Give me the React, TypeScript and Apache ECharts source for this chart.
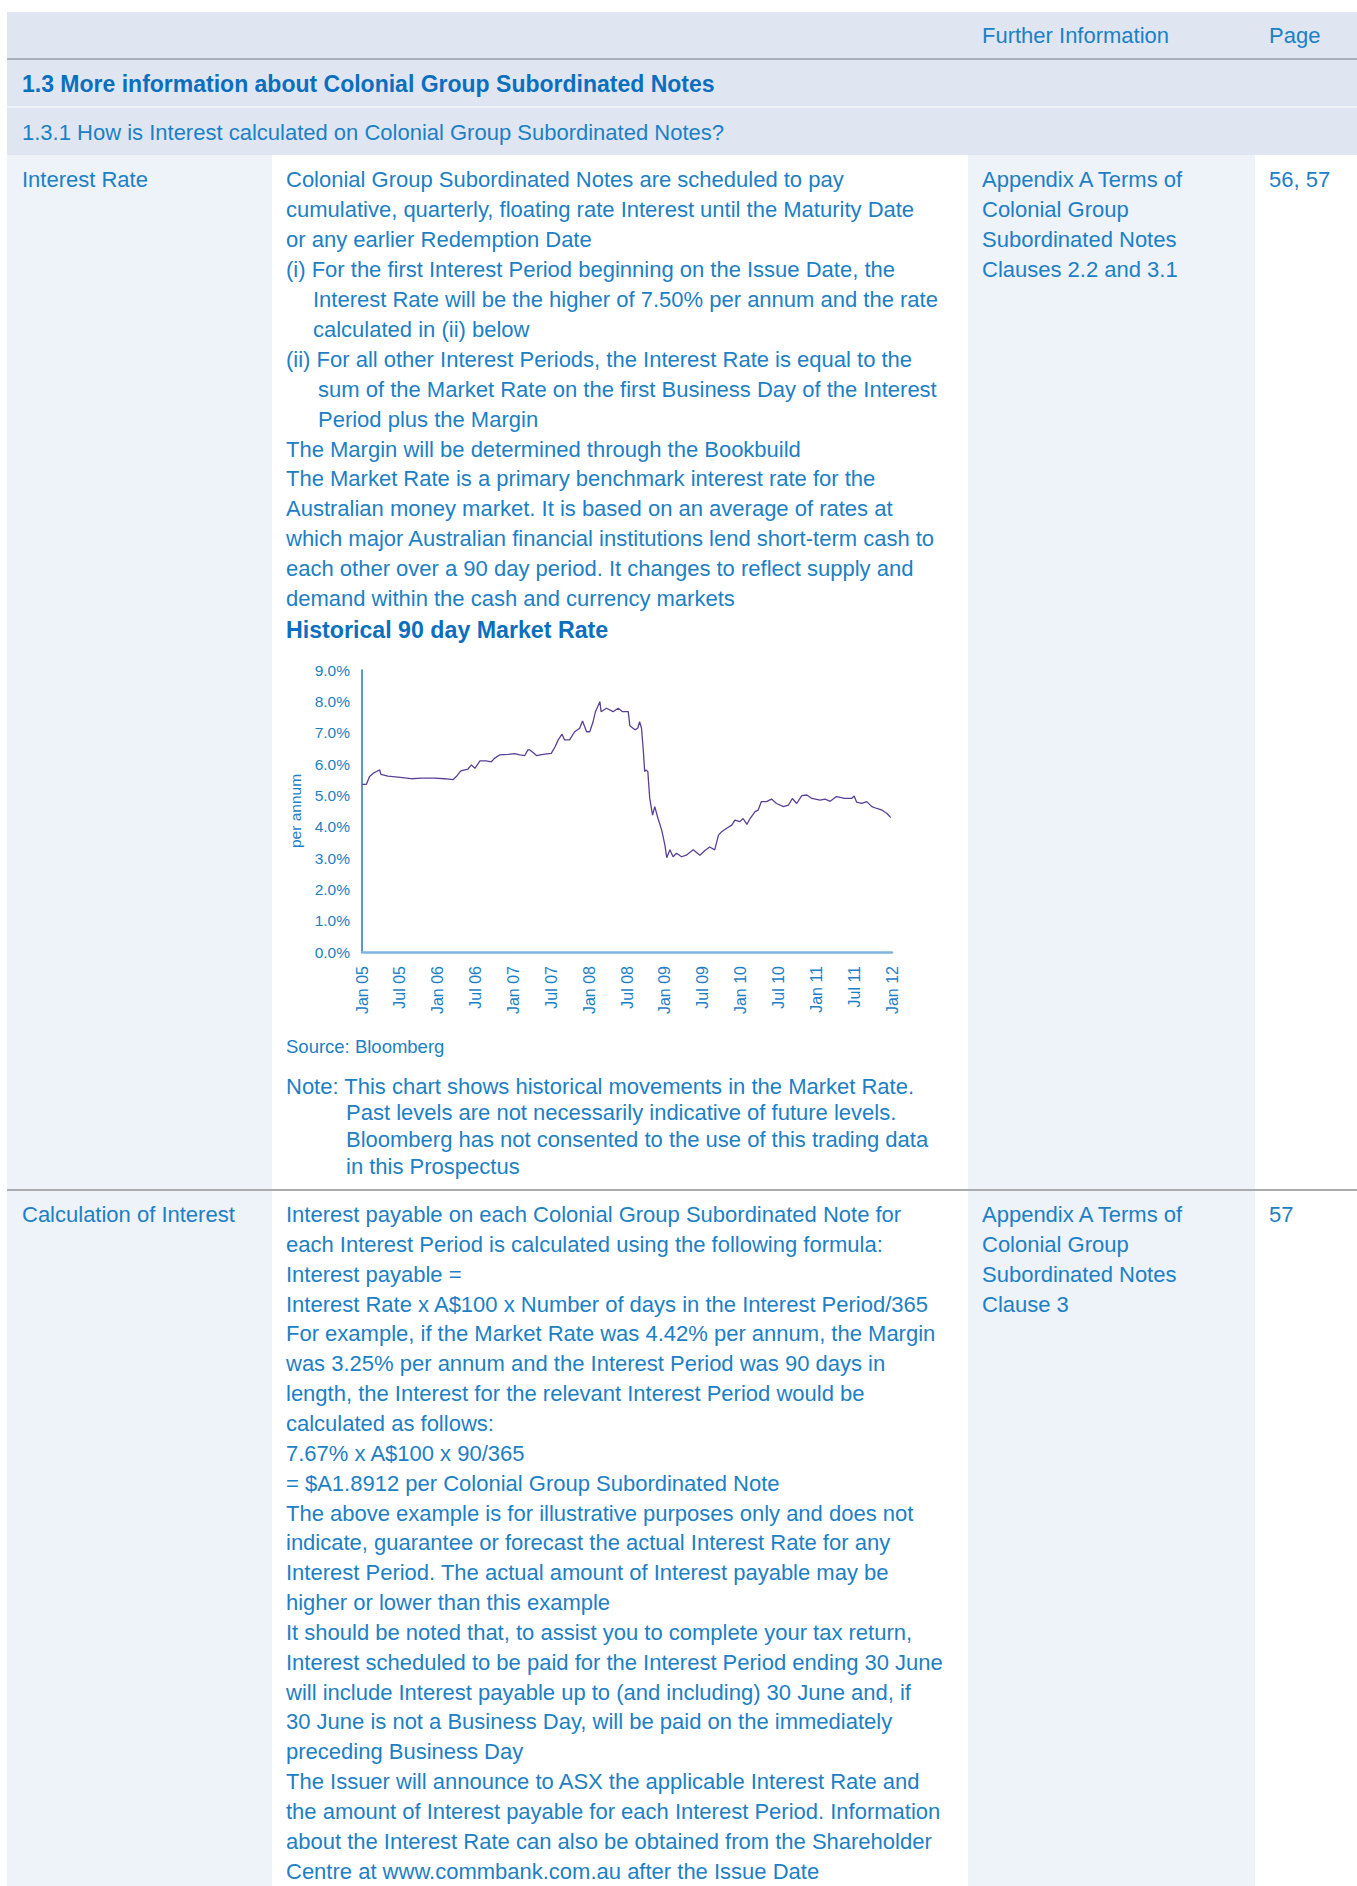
import React, { useEffect, useRef } from "react";
import * as echarts from "echarts";

// ---- Chart data (months since Jan 2005, 90 day market rate % p.a.) ----
const monthOffsets = [
  0, 0.7, 1.2, 1.75, 2.3, 2.8, 3.0, 4.1, 5.7, 7.8, 9.4, 11.5, 13.1, 14.4, 14.95, 15.65,
  16.8, 17.35, 17.9, 18.7, 19.7, 20.5, 21.0, 21.8, 23.2, 24.2, 25.0, 25.8, 26.3, 26.6,
  27.1, 27.65, 28.7, 30.0, 30.6, 31.1, 31.7, 32.1, 32.9, 33.7, 34.5, 34.95, 35.6, 36.1,
  36.6, 37.0, 37.7, 37.9, 38.75, 39.8, 40.6, 41.3, 42.2, 42.45, 43.25, 43.7, 44.0, 44.3,
  44.6, 44.8, 45.0, 45.3, 45.6, 46.05, 46.4, 46.9, 47.5, 48.0, 48.3, 48.8, 49.3, 49.85,
  50.65, 51.4, 52.5, 53.55, 54.3, 55.1, 55.9, 56.5, 57.0, 57.8, 58.6, 59.1, 59.9, 60.4,
  61.0, 61.5, 62.3, 62.8, 63.3, 64.1, 64.9, 65.7, 66.8, 67.6, 68.2, 68.9, 69.7, 70.5,
  71.3, 72.6, 73.4, 74.2, 75.2, 76.5, 77.6, 78.0, 78.4, 79.2, 80.0, 80.8, 81.6, 82.4,
  83.2, 83.8,
];
const rates = [
  5.35, 5.35, 5.6, 5.7, 5.76, 5.81, 5.67, 5.61, 5.58, 5.53, 5.55, 5.55, 5.53, 5.5, 5.6, 5.78,
  5.84, 5.97, 5.86, 6.1, 6.1, 6.07, 6.18, 6.29, 6.31, 6.33, 6.29, 6.27, 6.45, 6.45,
  6.37, 6.27, 6.31, 6.34, 6.55, 6.77, 6.95, 6.77, 6.77, 7.03, 7.14, 7.37, 7.03, 7.03,
  7.33, 7.67, 7.99, 7.67, 7.78, 7.67, 7.78, 7.67, 7.67, 7.22, 7.09, 7.14, 7.35, 7.14,
  6.39, 5.76, 5.81, 5.76, 4.91, 4.37, 4.64, 4.27, 3.89, 3.42, 3.01, 3.26, 3.04, 3.15,
  3.04, 3.09, 3.26, 3.09, 3.23, 3.35, 3.26, 3.73, 3.84, 3.95, 4.05, 4.21, 4.16, 4.26,
  4.07, 4.26, 4.48, 4.53, 4.8, 4.8, 4.88, 4.74, 4.64, 4.69, 4.9, 4.74, 4.99, 5.01,
  4.9, 4.85, 4.88, 4.81, 4.96, 4.9, 4.9, 4.98, 4.78, 4.74, 4.8, 4.64, 4.58, 4.53,
  4.42, 4.29,
];
const xTickLabels = [
  "Jan 05", "Jul 05", "Jan 06", "Jul 06", "Jan 07", "Jul 07", "Jan 08", "Jul 08",
  "Jan 09", "Jul 09", "Jan 10", "Jul 10", "Jan 11", "Jul 11", "Jan 12",
];

const FONT = '"Liberation Sans", Arial, sans-serif';
const TEXT = "#1c80c6";
const BOLD = "#0b6ebe";
const HEADER_BG = "#dfe6f2";
const PALE_BG = "#eef2f9";

type Line = { t: string; x: number };

const row2Col2: Line[] = [
  { t: "Colonial Group Subordinated Notes are scheduled to pay", x: 286 },
  { t: "cumulative, quarterly, floating rate Interest until the Maturity Date", x: 286 },
  { t: "or any earlier Redemption Date", x: 286 },
  { t: "(i) For the first Interest Period beginning on the Issue Date, the", x: 286 },
  { t: "Interest Rate will be the higher of 7.50% per annum and the rate", x: 313 },
  { t: "calculated in (ii) below", x: 313 },
  { t: "(ii) For all other Interest Periods, the Interest Rate is equal to the", x: 286 },
  { t: "sum of the Market Rate on the first Business Day of the Interest", x: 318 },
  { t: "Period plus the Margin", x: 318 },
  { t: "The Margin will be determined through the Bookbuild", x: 286 },
  { t: "The Market Rate is a primary benchmark interest rate for the", x: 286 },
  { t: "Australian money market. It is based on an average of rates at", x: 286 },
  { t: "which major Australian financial institutions lend short-term cash to", x: 286 },
  { t: "each other over a 90 day period. It changes to reflect supply and", x: 286 },
  { t: "demand within the cash and currency markets", x: 286 },
];

const noteLines: Line[] = [
  { t: "Note: This chart shows historical movements in the Market Rate.", x: 286 },
  { t: "Past levels are not necessarily indicative of future levels.", x: 346 },
  { t: "Bloomberg has not consented to the use of this trading data", x: 346 },
  { t: "in this Prospectus", x: 346 },
];

const row3Col2: string[] = [
  "Interest payable on each Colonial Group Subordinated Note for",
  "each Interest Period is calculated using the following formula:",
  "Interest payable =",
  "Interest Rate x A$100 x Number of days in the Interest Period/365",
  "For example, if the Market Rate was 4.42% per annum, the Margin",
  "was 3.25% per annum and the Interest Period was 90 days in",
  "length, the Interest for the relevant Interest Period would be",
  "calculated as follows:",
  "7.67% x A$100 x 90/365",
  "= $A1.8912 per Colonial Group Subordinated Note",
  "The above example is for illustrative purposes only and does not",
  "indicate, guarantee or forecast the actual Interest Rate for any",
  "Interest Period. The actual amount of Interest payable may be",
  "higher or lower than this example",
  "It should be noted that, to assist you to complete your tax return,",
  "Interest scheduled to be paid for the Interest Period ending 30 June",
  "will include Interest payable up to (and including) 30 June and, if",
  "30 June is not a Business Day, will be paid on the immediately",
  "preceding Business Day",
  "The Issuer will announce to ASX the applicable Interest Rate and",
  "the amount of Interest payable for each Interest Period. Information",
  "about the Interest Rate can also be obtained from the Shareholder",
  "Centre at www.commbank.com.au after the Issue Date",
];

const row2Col3 = ["Appendix A Terms of", "Colonial Group", "Subordinated Notes", "Clauses 2.2 and 3.1"];
const row3Col3 = ["Appendix A Terms of", "Colonial Group", "Subordinated Notes", "Clause 3"];

function T(props: {
  x: number;
  cy: number;
  text: string;
  size?: number;
  bold?: boolean;
  color?: string;
}) {
  const size = props.size ?? 22;
  const lh = 30;
  return (
    <div
      style={{
        position: "absolute",
        left: props.x,
        top: props.cy - lh / 2,
        height: lh,
        lineHeight: lh + "px",
        fontSize: size,
        fontWeight: props.bold ? 700 : 400,
        color: props.color ?? TEXT,
        whiteSpace: "nowrap",
        fontFamily: FONT,
      }}
    >
      {props.text}
    </div>
  );
}

function Box(props: { x: number; y: number; w: number; h: number; bg: string }) {
  return (
    <div
      style={{
        position: "absolute",
        left: props.x,
        top: props.y,
        width: props.w,
        height: props.h,
        background: props.bg,
      }}
    />
  );
}

function RateChart() {
  const ref = useRef<HTMLDivElement>(null);
  useEffect(() => {
    if (!ref.current) return;
    const chart = echarts.init(ref.current, undefined, { renderer: "svg" });
    const data = monthOffsets.map((m, i) => [m, rates[i]]);
    chart.setOption({
      animation: false,
      backgroundColor: "transparent",
      grid: { left: 90, right: 60, top: 30, bottom: 88, containLabel: false },
      xAxis: {
        type: "value",
        min: 0,
        max: 84,
        interval: 6,
        axisLine: { show: true, lineStyle: { color: "#7fb4df", width: 2.5 } },
        axisTick: { show: false },
        splitLine: { show: false },
        axisLabel: {
          rotate: 90,
          margin: 14,
          fontSize: 16,
          color: TEXT,
          fontFamily: FONT,
          formatter: (v: number) => xTickLabels[Math.round(v / 6)] ?? "",
        },
      },
      yAxis: {
        type: "value",
        min: 0,
        max: 9,
        interval: 1,
        name: "per annum",
        nameLocation: "middle",
        nameRotate: 90,
        nameGap: 58,
        nameTextStyle: { color: TEXT, fontSize: 15.5, fontFamily: FONT },
        axisLine: { show: true, lineStyle: { color: "#1f78c1", width: 1.5 } },
        axisTick: { show: false },
        splitLine: { show: false },
        axisLabel: {
          margin: 12,
          fontSize: 15.5,
          color: TEXT,
          fontFamily: FONT,
          formatter: (v: number) => v.toFixed(1) + "%",
        },
      },
      series: [
        {
          type: "line",
          data,
          showSymbol: false,
          lineStyle: { color: "#5a3f98", width: 1.3 },
        },
      ],
    });
    return () => chart.dispose();
  }, []);
  return (
    <div
      ref={ref}
      style={{ position: "absolute", left: 272, top: 640, width: 680, height: 400 }}
    />
  );
}

export default function App() {
  const r2Start = 180.4;
  const r2Pitch = 29.9;
  const r3Start = 1215;
  const r3Pitch = 29.85;
  return (
    <div
      style={{
        position: "absolute",
        left: 0,
        top: 0,
        width: 1357,
        height: 1886,
        overflow: "hidden",
        background: "#ffffff",
        fontFamily: FONT,
      }}
    >
      {/* header band */}
      <Box x={7} y={12} w={1350} h={143} bg={HEADER_BG} />
      <Box x={7} y={58} w={1350} h={2} bg="#a9afb8" />
      <Box x={7} y={106} w={1350} h={1.5} bg="#eef2f8" />
      {/* row 2 */}
      <Box x={7} y={155} w={265} h={1035} bg={PALE_BG} />
      <Box x={968} y={155} w={287} h={1035} bg={PALE_BG} />
      <Box x={7} y={1189} w={1350} h={2} bg="#a9abaf" />
      {/* row 3 */}
      <Box x={7} y={1191} w={265} h={700} bg={PALE_BG} />
      <Box x={968} y={1191} w={287} h={700} bg={PALE_BG} />

      <T x={982} cy={36} text="Further Information" />
      <T x={1269} cy={36} text="Page" />
      <T x={22} cy={84} text="1.3 More information about Colonial Group Subordinated Notes" bold size={23} color={BOLD} />
      <T x={22} cy={132.5} text="1.3.1 How is Interest calculated on Colonial Group Subordinated Notes?" />

      <T x={22} cy={r2Start} text="Interest Rate" />
      {row2Col2.map((l, i) => (
        <T key={"r2-" + i} x={l.x} cy={r2Start + i * r2Pitch} text={l.t} />
      ))}
      <T x={286} cy={r2Start + 15 * r2Pitch + 1} text="Historical 90 day Market Rate" bold size={23.2} color={BOLD} />
      {row2Col3.map((t, i) => (
        <T key={"r2c3-" + i} x={982} cy={r2Start + i * r2Pitch} text={t} />
      ))}
      <T x={1269} cy={r2Start} text="56, 57" />

      <RateChart />

      <T x={286} cy={1046.5} text="Source: Bloomberg" size={18.5} />
      {noteLines.map((l, i) => (
        <T key={"n-" + i} x={l.x} cy={1086.5 + i * 26.9} text={l.t} />
      ))}

      <T x={22} cy={r3Start} text="Calculation of Interest" />
      {row3Col2.map((t, i) => (
        <T key={"r3-" + i} x={286} cy={r3Start + i * r3Pitch} text={t} />
      ))}
      {row3Col3.map((t, i) => (
        <T key={"r3c3-" + i} x={982} cy={r3Start + i * r3Pitch} text={t} />
      ))}
      <T x={1269} cy={r3Start} text="57" />
    </div>
  );
}
